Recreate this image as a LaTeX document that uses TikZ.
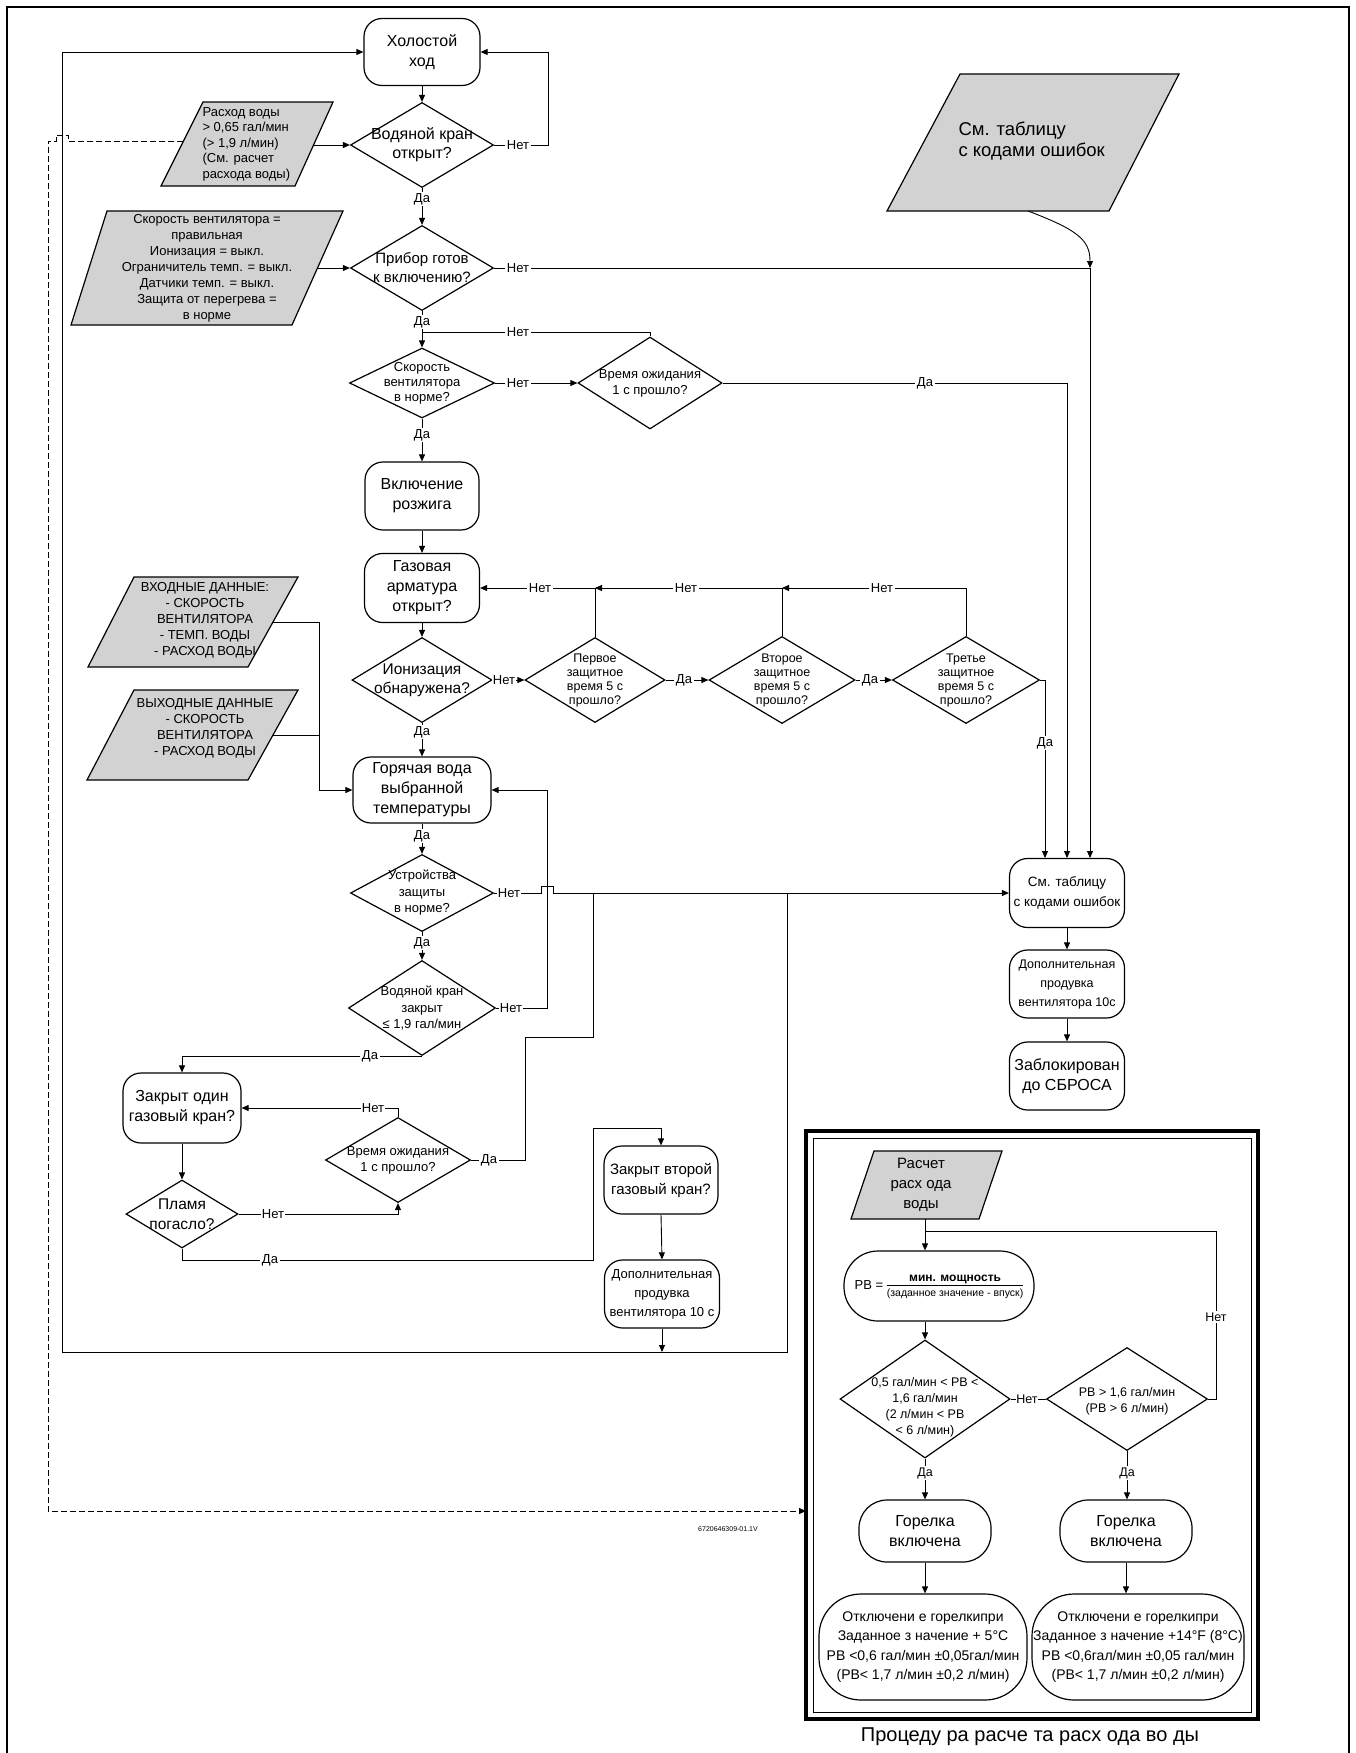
\documentclass[tikz,border=0pt]{standalone}
\usepackage{fontspec}
\setmainfont{Liberation Sans}
\usetikzlibrary{shapes.geometric,arrows.meta}
\newcommand\myfs[2]{\fontsize{#1}{#2}\selectfont}
\begin{document}
\begin{tikzpicture}[x=1pt,y=-1pt,
  every node/.style={font=\myfs{13}{15}},
  box/.style={draw, line width=1.2pt, rounded corners=18pt, inner sep=0pt},
  bx/.style={box, align=center},
  dia/.style={draw, diamond, line width=1.2pt, inner sep=0pt},
  dl/.style={align=center, inner sep=0pt},
  para/.style={draw, fill=gray!35, line width=1.2pt},
  lab/.style={fill=white, inner sep=1.5pt, font=\myfs{13}{15}},
  conn/.style={line width=0.9pt},
  arr/.style={conn, -{Triangle[length=7pt,width=6pt]}},
]
\useasboundingbox (0,0) rectangle (1356,1753);
\draw[line width=1.5pt] (7,1753) -- (7,7) -- (1349,7) -- (1349,1753);

% ---------- main column ----------
\node[bx, minimum width=116pt, minimum height=67pt, font=\myfs{16}{20}] (idle) at (422,52) {Холостой\\ход};
\node[dia, minimum width=143pt, minimum height=85pt, label={[dl,font=\myfs{16}{19}]center:{Водяной кран\\открыт?}}] (dopen) at (422,145) {};
\node[dia, minimum width=143pt, minimum height=85pt, label={[dl,font=\myfs{15}{19}]center:{Прибор готов\\к включению?}}] (dready) at (422,268) {};
\node[dia, minimum width=145pt, minimum height=70pt, label={[dl,font=\myfs{13}{15}]center:{Скорость\\вентилятора\\в норме?}}] (dfan) at (422,383) {};
\node[dia, minimum width=144pt, minimum height=92pt, label={[dl,font=\myfs{13}{16}]center:{Время ожидания\\1 с прошло?}}] (dwait1) at (650,383) {};
\node[bx, minimum width=114pt, minimum height=68pt, font=\myfs{16}{20}] (ign) at (422,496) {Включение\\розжига};
\node[bx, minimum width=115pt, minimum height=69pt, font=\myfs{16}{20}] (gas) at (422,588) {Газовая\\арматура\\открыт?};
\node[dia, minimum width=140pt, minimum height=85pt, label={[dl,font=\myfs{15.5}{19}]center:{Ионизация\\обнаружена?}}] (dion) at (422,680) {};
\node[dia, minimum width=140pt, minimum height=85pt, label={[dl,font=\myfs{12.5}{14}]center:{Первое\\защитное\\время 5 с\\прошло?}}] (dt1) at (595,680) {};
\node[dia, minimum width=146pt, minimum height=87pt, label={[dl,font=\myfs{12.5}{14}]center:{Второе\\защитное\\время 5 с\\прошло?}}] (dt2) at (782,680) {};
\node[dia, minimum width=147pt, minimum height=87pt, label={[dl,font=\myfs{12.5}{14}]center:{Третье\\защитное\\время 5 с\\прошло?}}] (dt3) at (966,680) {};
\node[bx, minimum width=138pt, minimum height=66pt, font=\myfs{16}{20}] (hot) at (422,790) {Горячая вода\\выбранной\\температуры};
\node[dia, minimum width=143pt, minimum height=77pt, label={[dl,font=\myfs{13}{16.5}]center:{Устройства\\защиты\\в норме?}}] (dprot) at (422,893) {};
\node[dia, minimum width=147pt, minimum height=95pt, label={[dl,font=\myfs{13}{16.7}]center:{Водяной кран\\закрыт\\≤ 1,9 гал/мин}}] (dclose) at (422,1008) {};
\node[bx, minimum width=118pt, minimum height=70pt, font=\myfs{16}{20}] (one) at (182,1108) {Закрыт один\\газовый кран?};
\node[dia, minimum width=145pt, minimum height=85pt, label={[dl,font=\myfs{13}{16}]center:{Время ожидания\\1 с прошло?}}] (dwait2) at (398,1160) {};
\node[dia, minimum width=112pt, minimum height=68pt, label={[dl,font=\myfs{15.5}{20}]center:{Пламя\\погасло?}}] (dflame) at (182,1214) {};
\node[bx, minimum width=114pt, minimum height=68pt, font=\myfs{15}{20}] (two) at (661,1180) {Закрыт второй\\газовый кран?};
\node[bx, minimum width=115pt, minimum height=68pt, font=\myfs{13}{19}] (purge1) at (662,1294) {Дополнительная\\продувка\\вентилятора 10 с};

% ---------- right column ----------
\node[bx, minimum width=115pt, minimum height=69pt, font=\myfs{13.5}{20}] (errbox) at (1067,893) {См. таблицу\\с кодами ошибок};
\node[bx, minimum width=115pt, minimum height=68pt, font=\myfs{12.5}{19}] (purge2) at (1067,984) {Дополнительная\\продувка\\вентилятора 10с};
\node[bx, minimum width=115pt, minimum height=68pt, font=\myfs{16}{20}] (lock) at (1067,1076) {Заблокирован\\до СБРОСА};

% ---------- data parallelograms ----------
\draw[para] (203,102) -- (333,102) -- (295,186) -- (161,186) -- cycle;
\node[align=left, anchor=west, font=\myfs{13}{15.5}] (tflow) at (199,144) {Расход воды\\> 0,65 гал/мин\\(> 1,9 л/мин)\\(См. расчет\\расхода воды)};
\coordinate (flowR) at (313,145);
\coordinate (flowL) at (183,141);

\draw[para] (960,74) -- (1179,74) -- (1109,211) -- (887,211) -- cycle;
\node[align=left, anchor=west, font=\myfs{18.5}{21.5}] (terr) at (955,141) {См. таблицу\\с кодами ошибок};
\coordinate (errB) at (1028,211);

\draw[para] (107,211) -- (343,211) -- (292,325) -- (71,325) -- cycle;
\node[align=center, font=\myfs{13}{16}] (tcond) at (207,268) {Скорость вентилятора =\\правильная\\Ионизация = выкл.\\Ограничитель темп. = выкл.\\Датчики темп. = выкл.\\Защита от перегрева =\\в норме};
\coordinate (condR) at (318,268);

\draw[para] (134,577) -- (298,577) -- (248,667) -- (88,667) -- cycle;
\node[align=center, font=\myfs{13}{16}] (tin) at (205,620) {ВХОДНЫЕ ДАННЫЕ:\\- СКОРОСТЬ\\ВЕНТИЛЯТОРА\\- ТЕМП. ВОДЫ\\- РАСХОД ВОДЫ};
\coordinate (inR) at (273,622);

\draw[para] (134,690) -- (298,690) -- (248,780) -- (87,780) -- cycle;
\node[align=center, font=\myfs{13}{16}] (tout) at (205,728) {ВЫХОДНЫЕ ДАННЫЕ\\- СКОРОСТЬ\\ВЕНТИЛЯТОРА\\- РАСХОД ВОДЫ};
\coordinate (outR) at (273,735);

% ---------- coordinates ----------
\coordinate (e1) at (1045,858);
\coordinate (e2) at (1067,858);
\coordinate (e3) at (1090,858);
\coordinate (jReady) at (1090,268);
\coordinate (jA) at (593,893);
\coordinate (jR) at (787,893);
\coordinate (bR) at (787,1352);
\coordinate (bL) at (62,1352);
\coordinate (dashEnd) at (806,1511);

% ---------- connectors ----------
\draw[arr] (idle.south) -- (dopen.north);
\draw[arr] (dopen.south) -- (dready.north);
\draw[arr] (dopen.east) -- ++(54,0) |- (idle.east);
\draw[arr] (jR) -- (bR) -- (bL) |- (idle.west);
\draw[arr] (flowR) -- (dopen.west);
\draw[arr] (condR) -- (dready.west);
\draw[conn, dash pattern=on 6pt off 3pt, -{Triangle[length=7pt,width=6pt]}] (flowL) -- (68,141) -- (68,135) -- (56,135) -- (56,141) -- (48,141) -- (48,1511) -- (dashEnd);
\draw[arr] (dready.south) -- (dfan.north);
\draw[conn] (dwait1.north) |- (422,332);
\draw[arr] (dready.east) -| (e3);
\draw[arr] (errB) .. controls (1078,230) and (1090,240) .. (jReady);
\draw[arr] (dfan.east) -- (dwait1.west);
\draw[arr] (dwait1.east) -| (e2);
\draw[arr] (dfan.south) -- (ign.north);
\draw[arr] (ign.south) -- (gas.north);
\draw[arr] (gas.south) -- (dion.north);
\draw[arr] (dion.south) -- (hot.north);
\draw[arr] (dion.east) -- (dt1.west);
\draw[arr] (dt1.north) |- (gas.east);
\draw[arr] (dt2.north) |- (dt1.north |- gas.east);
\draw[arr] (dt3.north) |- (dt2.north |- gas.east);
\draw[arr] (dt1.east) -- (dt2.west);
\draw[arr] (dt2.east) -- (dt3.west);
\draw[arr] (dt3.east) -| (e1);
\draw[arr] (inR) -- (319,622) |- (hot.west);
\draw[conn] (outR) -- (319,735);
\draw[arr] (dclose.east) -- (547,1008) |- (hot.east);
\draw[arr] (hot.south) -- (dprot.north);
\draw[arr] (dprot.south) -- (dclose.north);
\draw[arr] (dprot.east) -- (541,893) -- (541,886) -- (553,886) -- (553,893) -- (errbox.west);
\draw[arr] (dclose.south) -| (one.north);
\draw[arr] (one.south) -- (dflame.north);
\draw[arr] (dflame.east) -| (dwait2.south);
\draw[arr] (dwait2.north) |- (one.east);
\draw[conn] (dwait2.east) -- (525,1160) -- (525,1037) -- (593,1037) -- (jA);
\draw[arr] (dflame.south) -- (182,1260) -- (593,1260) -- (593,1128) -| (two.north);
\draw[arr] (two.south) -- (purge1.north);
\draw[arr] (purge1.south) -- (purge1.south |- bR);
\draw[arr] (errbox.south) -- (purge2.north);
\draw[arr] (purge2.south) -- (lock.north);

% ---------- labels ----------
\node[lab] (l1) at (422,199) {Да};
\node[lab] (l2) at (518,145) {Нет};
\node[lab] (l3) at (518,268) {Нет};
\node[lab] (l4) at (422,322) {Да};
\node[lab] (l5) at (518,332) {Нет};
\node[lab] (l6) at (518,383) {Нет};
\node[lab] (l7) at (925,383) {Да};
\node[lab] (l8) at (422,435) {Да};
\node[lab] (l9) at (540,588) {Нет};
\node[lab] (l10) at (686,588) {Нет};
\node[lab] (l11) at (882,588) {Нет};
\node[lab, inner sep=0.5pt] (l12) at (504,680) {Нет};
\node[lab] (l13) at (684,680) {Да};
\node[lab] (l14) at (870,680) {Да};
\node[lab] (l15) at (1045,743) {Да};
\node[lab] (l16) at (422,732) {Да};
\node[lab] (l17) at (422,836) {Да};
\node[lab, inner sep=0.5pt] (l18) at (509,893) {Нет};
\node[lab] (l19) at (422,943) {Да};
\node[lab, inner sep=0.5pt] (l20) at (511,1008) {Нет};
\node[lab] (l21) at (370,1056) {Да};
\node[lab, inner sep=0.5pt] (l22) at (373,1108) {Нет};
\node[lab] (l23) at (489,1160) {Да};
\node[lab, inner sep=0.5pt] (l24) at (273,1214) {Нет};
\node[lab] (l25) at (270,1260) {Да};

% ---------- inset: water flow calculation ----------
\draw[line width=3.5pt] (806,1131) rectangle (1258,1719);
\draw[line width=1pt] (813,1138) rectangle (1251,1712);
\draw[para] (874,1151) -- (1002,1151) -- (979,1219) -- (851,1219) -- cycle;
\node[align=center, font=\myfs{15}{20}] (tcalc) at (921,1185) {Расчет\\расх ода\\воды};
\coordinate (calcB) at (925,1219);
\node[box, rounded corners=34pt, minimum width=190pt, minimum height=70pt, font=\myfs{13}{15}] (pb) at (939,1286) {РВ = \begin{tabular}{@{}c@{}}{\myfs{12}{14}\bfseries мин. мощность}\\[-1pt]\hline\rule{0pt}{12pt}{\myfs{10.5}{12}(заданное значение - впуск)}\end{tabular}};
\node[dia, minimum width=170pt, minimum height=118pt, label={[dl,font=\myfs{12.5}{16},yshift=-8pt]center:{0,5 гал/мин < РВ <\\1,6 гал/мин\\(2 л/мин < РВ\\< 6 л/мин)}}] (drange) at (925,1399) {};
\node[dia, minimum width=161pt, minimum height=103pt, label={[dl,font=\myfs{12.5}{16.5},yshift=-2pt]center:{РВ > 1,6 гал/мин\\(РВ > 6 л/мин)}}] (dhigh) at (1127,1399) {};
\node[bx, rounded corners=28pt, minimum width=132pt, minimum height=62pt, font=\myfs{16}{20}] (burn1) at (925,1531) {Горелка\\включена};
\node[bx, rounded corners=28pt, minimum width=132pt, minimum height=62pt, font=\myfs{16}{20}] (burn2) at (1126,1531) {Горелка\\включена};
\node[bx, rounded corners=42pt, minimum width=208pt, minimum height=106pt, font=\myfs{14}{19.5}] (off1) at (923,1647) {Отключени е горелкипри\\Заданное з начение + 5°C\\РВ <0,6 гал/мин ±0,05гал/мин\\(РВ< 1,7 л/мин ±0,2 л/мин)};
\node[bx, rounded corners=42pt, minimum width=212pt, minimum height=106pt, font=\myfs{14}{19.5}] (off2) at (1138,1647) {Отключени е горелкипри\\Заданное з начение +14°F (8°C)\\РВ <0,6гал/мин ±0,05 гал/мин\\(РВ< 1,7 л/мин ±0,2 л/мин)};

\draw[arr] (calcB) -- (calcB |- pb.north);
\draw[arr] (calcB |- pb.south) -- (drange.north);
\draw[conn] (drange.east) -- (dhigh.west);
\draw[conn] (dhigh.east) -- (1216,1399) -- (1216,1231) -- (925,1231);
\draw[arr] (drange.south) -- (burn1.north);
\draw[arr] (dhigh.south) -- (dhigh.south |- burn2.north);
\draw[arr] (burn1.south) -- (burn1.south |- off1.north);
\draw[arr] (burn2.south) -- (burn2.south |- off2.north);
\node[lab, font=\myfs{12.5}{15}, inner sep=0.5pt] (l26) at (1027,1399) {Нет};
\node[lab, font=\myfs{12.5}{15}] (l27) at (1216,1317) {Нет};
\node[lab, font=\myfs{12.5}{15}] (l28) at (925,1473) {Да};
\node[lab, font=\myfs{12.5}{15}] (l29) at (1127,1473) {Да};

\node[font=\myfs{7}{8}] (code) at (728,1529) {6720646309-01.1V};
\node[font=\myfs{20}{24}] (caption) at (1030,1737) {Процеду ра расче та расх ода  во ды};
\end{tikzpicture}
\end{document}
